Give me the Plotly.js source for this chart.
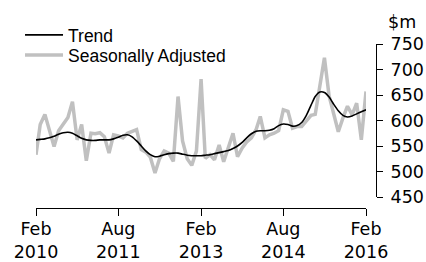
<!DOCTYPE html>
<html>
<head>
<meta charset="utf-8">
<script src="https://cdn.plot.ly/plotly-3.0.1.min.js"></script>
<style>html,body{margin:0;padding:0;background:#fff;}#chart{width:426px;height:262px;}</style>
</head>
<body>
<div id="chart"></div>
<script>
// Monthly months Feb 2010 .. Feb 2016
var startYear = 2010, startMonth = 2, nMonths = 73;
var months = [];
for (var i = 0; i < nMonths; i++) {
  var m = startMonth - 1 + i;
  var y = startYear + Math.floor(m / 12);
  var mm = (m % 12) + 1;
  months.push(y + '-' + (mm < 10 ? '0' + mm : mm) + '-01');
}

var trend = [562,563,564,566,569,573,576,577,575,570,565,562,561,561,562,562,562,564,567,571,
  572,568,560,550,540,533,529,530,533,535,536,536,534,532,531,531,531,532,533,535,
  537,539,541,545,550,557,566,574,579,580,580,581,584,590,593,592,589,590,596,610,
  630,647,656,655,646,632,619,610,607,609,613,617,621];

var seasAdj = [533,592,612,580,549,580,592,606,637,562,592,521,575,574,576,568,536,572,570,566,
  575,578,582,543,538,528,497,525,540,536,520,647,560,525,512,540,681,526,533,523,
  552,519,545,575,529,546,558,566,582,608,566,572,575,580,621,618,585,588,588,598,
  610,612,670,723,648,610,578,605,628,611,634,562,657];

var tickVals = ['2010-02-01','2011-08-01','2013-02-01','2014-08-01','2016-02-01'];
var tickText = ['Feb<br>2010','Aug<br>2011','Feb<br>2013','Aug<br>2014','Feb<br>2016'];
var yTicks = [450,500,550,600,650,700,750];

var traces = [
  {x: months, y: seasAdj, type: 'scatter', mode: 'lines', name: 'Seasonally Adjusted',
   legend: 'legend2',
   line: {color: '#c0c0c0', width: 3.5}},
  {x: months, y: trend, type: 'scatter', mode: 'lines', name: 'Trend',
   legend: 'legend',
   line: {color: '#000000', width: 1.6, shape: 'spline', smoothing: 0.6}}
];

var legFont = {family: 'Liberation Sans, Arial, sans-serif', size: 17.5, color: '#000'};

var layout = {
  width: 426, height: 262,
  margin: {l: 36, r: 50, t: 44, b: 54, pad: 0},
  paper_bgcolor: '#ffffff', plot_bgcolor: '#ffffff',
  font: {family: 'Liberation Sans, Arial, sans-serif', color: '#000000', size: 17},
  showlegend: true,
  legend: {x: -0.047, y: (208 - 35) / 164, xanchor: 'left', yanchor: 'middle',
    bgcolor: 'rgba(0,0,0,0)', font: legFont, itemwidth: 38, borderwidth: 0},
  legend2: {x: -0.047, y: (208 - 55) / 164, xanchor: 'left', yanchor: 'middle',
    bgcolor: 'rgba(0,0,0,0)', font: legFont, itemwidth: 38, borderwidth: 0},
  xaxis: {
    type: 'date', range: ['2010-02-01', '2016-02-01'], domain: [0, 330/340],
    anchor: 'free', position: 0,
    tickmode: 'array', tickvals: tickVals, ticktext: tickText,
    ticks: 'outside', ticklen: 7, tickwidth: 1, tickcolor: '#000',
    showline: true, linecolor: '#000', linewidth: 1,
    showgrid: false, zeroline: false, ticklabelstandoff: -2,
    tickfont: {family: 'DejaVu Sans, sans-serif', size: 17.5, color: '#000'}
  },
  yaxis: {
    range: [450, 750], domain: [11/164, 1], side: 'right', anchor: 'free', position: 1,
    tickmode: 'array', tickvals: yTicks,
    ticks: 'outside', ticklen: 6, tickwidth: 1, tickcolor: '#000',
    showline: true, linecolor: '#000', linewidth: 1,
    showgrid: false, zeroline: false, ticklabelstandoff: 4,
    tickfont: {family: 'DejaVu Sans, sans-serif', size: 17.5, color: '#000'}
  },
  annotations: [
    {text: '$m', xref: 'paper', yref: 'paper', x: (402 - 36) / 340, y: (208 - 22) / 164,
     xanchor: 'center', yanchor: 'middle', showarrow: false,
     font: {family: 'DejaVu Sans, sans-serif', size: 17.5, color: '#000'}}
  ]
};

Plotly.newPlot('chart', traces, layout, {displayModeBar: false, staticPlot: true});
</script>
</body>
</html>
